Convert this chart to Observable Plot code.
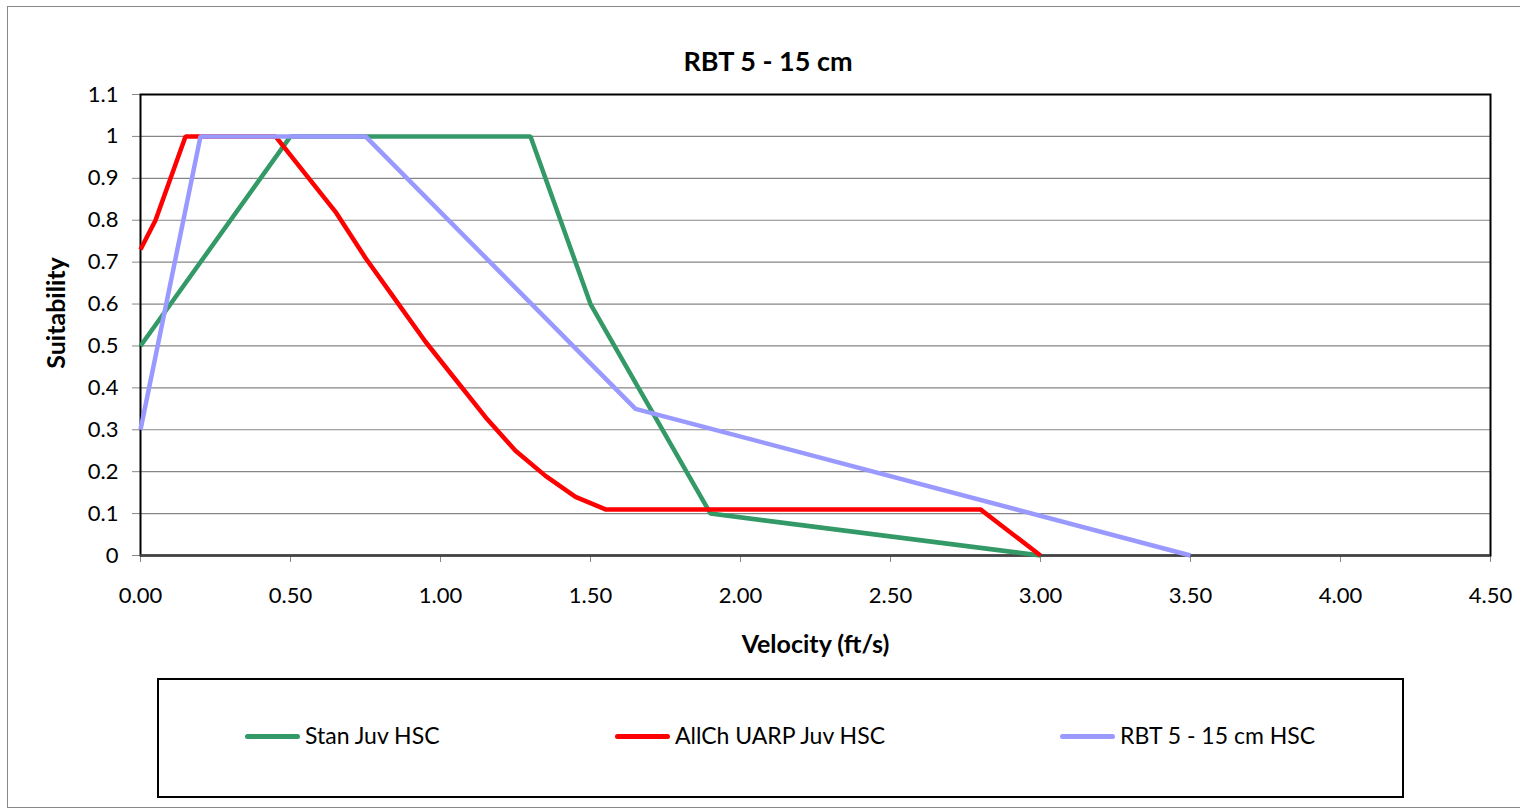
<!DOCTYPE html>
<html><head><meta charset="utf-8">
<script src="https://cdn.jsdelivr.net/npm/d3@7"></script>
<script src="https://cdn.jsdelivr.net/npm/@observablehq/plot@0.6"></script>
<style>
body{margin:0;background:#fff;font-family:Lato,"Open Sans",sans-serif;}
#wrap{position:relative;width:1520px;height:811px;overflow:hidden;background:#fff}
#outer{position:absolute;left:7px;top:6px;width:1520px;height:802px;border:1px solid #898989;box-sizing:border-box}
#title{position:absolute;top:45px;left:0;width:1536px;text-align:center;font-weight:bold;font-size:27px;line-height:32px}
#plot{position:absolute;left:0;top:0}
#legend{position:absolute;left:157px;top:678px;width:1247px;height:120px;border:2px solid #000;box-sizing:border-box;background:#fff}
.item{position:absolute;top:40px;height:30px;font-size:23px;line-height:30px;white-space:nowrap}
.sw{position:absolute;left:0;top:14px;width:55px;height:5px;border-radius:3px}
.lab{position:absolute;left:60px;top:0}
</style>
</head><body>
<div id="wrap">
  <div id="outer"></div>
  <div id="plot"></div>
  <div id="title">RBT 5 - 15 cm</div>
  <div id="legend"></div>
</div>
<script>
const seriesNames = ["Stan Juv HSC", "AllCh UARP Juv HSC", "RBT 5 - 15 cm HSC"];
const seriesColors = ["#339966", "#FF0000", "#9999FF"];

const stanVel = [0, 0.5, 1.3, 1.5, 1.9, 3.0];
const stanSuit = [0.5, 1, 1, 0.6, 0.1, 0];

const allchVel = [0, 0.05, 0.15, 0.45, 0.55, 0.65, 0.75, 0.85, 0.95, 1.05, 1.15, 1.25, 1.35, 1.45, 1.55, 2.8, 3.0];
const allchSuit = [0.73, 0.8, 1, 1, 0.91, 0.82, 0.71, 0.61, 0.51, 0.42, 0.33, 0.25, 0.19, 0.14, 0.11, 0.11, 0];

const rbtVel = [0, 0.2, 0.75, 1.65, 3.5];
const rbtSuit = [0.3, 1, 1, 0.35, 0];

const xTicks = [0, 0.5, 1, 1.5, 2, 2.5, 3, 3.5, 4, 4.5];
const yTicks = [0, 0.1, 0.2, 0.3, 0.4, 0.5, 0.6, 0.7, 0.8, 0.9, 1, 1.1];

const vels = [stanVel, allchVel, rbtVel];
const suits = [stanSuit, allchSuit, rbtSuit];
const data = [];
seriesNames.forEach((name, i) => {
  vels[i].forEach((v, j) => data.push({series: name, v, s: suits[i][j]}));
});

const font = "Lato, 'Open Sans', sans-serif";
const chart = Plot.plot({
  width: 1520,
  height: 680,
  marginLeft: 140,
  marginRight: 30,
  marginTop: 94,
  marginBottom: 125,
  style: {fontFamily: font, fontSize: "22px", color: "#000", background: "transparent"},
  x: {domain: [0, 4.5]},
  y: {domain: [0, 1.1]},
  color: {domain: seriesNames, range: seriesColors},
  marks: [
    Plot.gridY(yTicks, {stroke: "#868686", strokeOpacity: 1, strokeWidth: 1.2}),
    Plot.axisY(yTicks, {tickSize: 8, tickPadding: 14, stroke: "#888", tickFormat: d => String(d),
      fontSize: 22, label: null}),
    Plot.axisX(xTicks, {tickSize: 7, tickPadding: 25, stroke: "#888", tickFormat: d => d.toFixed(2),
      fontSize: 22, label: null}),
    Plot.text(["Suitability"], {frameAnchor: "left", dx: -84, dy: -12, rotate: -90, lineAnchor: "middle", textAnchor: "middle",
      text: d => d, fontSize: 25, fontWeight: "bold", fill: "#000"}),
    Plot.text(["Velocity (ft/s)"], {frameAnchor: "bottom", dy: 89, lineAnchor: "middle",
      text: d => d, fontSize: 25, fontWeight: "bold", fill: "#000"}),
    Plot.frame({stroke: "#000", strokeWidth: 2}),
    Plot.ruleY([0], {stroke: "#444", strokeWidth: 2.5}),
    Plot.line(data, {x: "v", y: "s", z: "series", stroke: "series", strokeWidth: 4.5, strokeLinejoin: "miter", strokeLinecap: "butt"})
  ]
});
document.getElementById("plot").appendChild(chart);

const legend = document.getElementById("legend");
const legendLeft = [86, 456, 901];
seriesNames.forEach((name, i) => {
  const it = document.createElement("div");
  it.className = "item";
  it.style.left = legendLeft[i] + "px";
  it.innerHTML = `<div class="sw" style="background:${seriesColors[i]}"></div><div class="lab"></div>`;
  it.querySelector(".lab").textContent = name;
  legend.appendChild(it);
});
</script>
</body></html>
